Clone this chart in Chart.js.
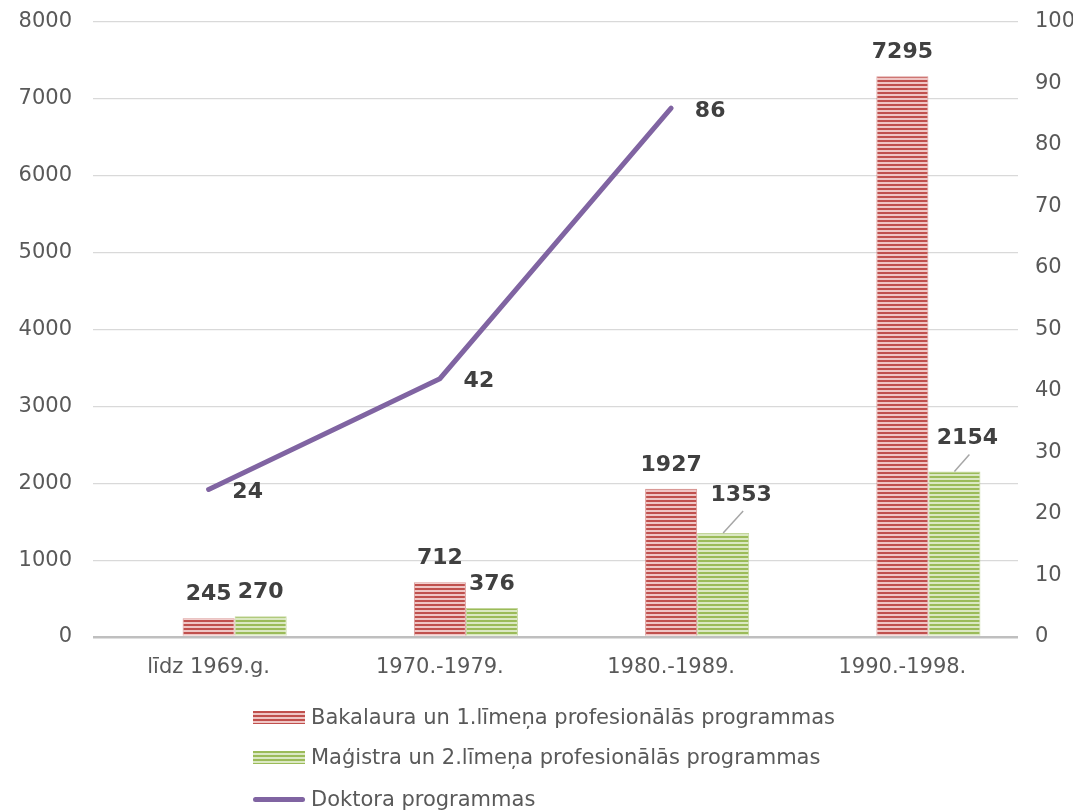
<!DOCTYPE html>
<html>
<head>
<meta charset="utf-8">
<script src="https://cdn.jsdelivr.net/npm/chart.js@4.4.1/dist/chart.umd.min.js"></script>
<style>
  html,body{margin:0;padding:0;background:#fff;}
  #wrap{position:relative;width:1083px;height:811px;}
  #legend{position:absolute;left:253px;top:0;font-family:'DejaVu Sans',Verdana,sans-serif;font-size:21px;color:#595959;}
  .row{position:absolute;left:0;display:flex;align-items:center;white-space:nowrap;height:24px;}
  .sw{width:52px;height:13px;margin-right:6px;}
  .sw.red{background:repeating-linear-gradient(to bottom,#c0504d 0 2px,#efc6c5 2px 4px);}
  .sw.green{background:repeating-linear-gradient(to bottom,#9bbb59 0 2px,#dbe8c3 2px 4px);}
  .sw.line{height:5px;border-radius:3px;background:#8064a2;}
</style>
</head>
<body>
<div id="wrap">
  <canvas id="chart"></canvas>
  <div id="legend"></div>
</div>
<script>
const categories = ["līdz 1969.g.", "1970.-1979.", "1980.-1989.", "1990.-1998."];
const seriesNames = ["Bakalaura un 1.līmeņa profesionālās programmas", "Maģistra un 2.līmeņa profesionālās programmas", "Doktora programmas"];
const bachelor = [245, 712, 1927, 7295];
const master = [270, 376, 1353, 2154];
const doctor = [24, 42, 86, null];
const leftTicks = [0, 1000, 2000, 3000, 4000, 5000, 6000, 7000, 8000];
const rightTicks = [0, 10, 20, 30, 40, 50, 60, 70, 80, 90, 100];

const COLOR = { RED:"#c0504d", RED_L:"#efc6c5", GREEN:"#9bbb59", GREEN_L:"#dbe8c3", PURP:"#8064a2", TEXT:"#595959", LABEL:"#404040" };
const FONT = "'DejaVu Sans', Verdana, sans-serif";

// labels moved off their bar, with a leader line (dataset key -> index -> [dx, dy])
const leaderShift = { master: { 2: [18, -14], 3: [13, -9] } };

function stripes(dark, light){
  const c = document.createElement("canvas"); c.width = 4; c.height = 4;
  const g = c.getContext("2d");
  g.fillStyle = light; g.fillRect(0,0,4,4);
  g.fillStyle = dark; g.fillRect(0,0,4,2);
  return g.createPattern(c, "repeat");
}

const valueLabels = {
  id: "valueLabels",
  afterDatasetsDraw(chart){
    const ctx = chart.ctx;
    ctx.save();
    ctx.font = "bold 22px " + FONT;
    ctx.fillStyle = COLOR.LABEL;
    ctx.textAlign = "center"; ctx.textBaseline = "middle";
    chart.data.datasets.forEach((ds, di) => {
      if (!ds.key) return;
      const meta = chart.getDatasetMeta(di);
      meta.data.forEach((el, i) => {
        const v = ds.data[i];
        if (v == null) return;
        if (ds.type === "line") {
          ctx.fillText(v, el.x + 39, el.y + 3);
          return;
        }
        let x = el.x, y = el.y - 24;
        const sh = leaderShift[ds.key] && leaderShift[ds.key][i];
        if (sh) {
          x += sh[0]; y += sh[1];
          ctx.strokeStyle = "#a6a6a6"; ctx.lineWidth = 1.5;
          ctx.beginPath(); ctx.moveTo(el.x, el.y); ctx.lineTo(x + 2, y + 16); ctx.stroke();
        }
        ctx.fillText(v, x, y);
      });
    });
    ctx.restore();
  }
};

const fitY = w => s => { s.width = w; s.paddingTop = 0; s.paddingBottom = 0; };

Chart.defaults.font.family = FONT;
Chart.defaults.font.size = 21;
Chart.defaults.color = COLOR.TEXT;

new Chart(document.getElementById("chart"), {
  type: "bar",
  data: {
    labels: categories,
    datasets: [
      { label: "", data: categories.map(() => null), backgroundColor: "transparent" },
      { key: "bachelor", label: seriesNames[0], data: bachelor, backgroundColor: stripes(COLOR.RED, COLOR.RED_L), borderColor: "rgba(192,80,77,0.6)", borderWidth: 1, yAxisID: "y" },
      { key: "master", label: seriesNames[1], data: master, backgroundColor: stripes(COLOR.GREEN, COLOR.GREEN_L), borderColor: "rgba(155,187,89,0.6)", borderWidth: 1, yAxisID: "y" },
      { key: "doctor", type: "line", label: seriesNames[2], data: doctor, borderColor: COLOR.PURP, backgroundColor: COLOR.PURP, borderWidth: 5, pointRadius: 0, borderCapStyle: "round", tension: 0, yAxisID: "y2", order: -1 }
    ]
  },
  options: {
    responsive: true, maintainAspectRatio: false, animation: false,
    layout: { padding: { left: 19, right: 10, top: 22, bottom: 114 } },
    datasets: { bar: { categoryPercentage: 0.675, barPercentage: 1 } },
    plugins: { legend: { display: false }, tooltip: { enabled: false } },
    scales: {
      x: { grid: { display: false }, border: { display: false }, ticks: { padding: 10 }, afterFit: s => { s.height = 60; } },
      y: { position: "left", min: leftTicks[0], max: leftTicks[leftTicks.length-1],
           afterBuildTicks: s => { s.ticks = leftTicks.map(v => ({ value: v })); },
           afterFit: fitY(74),
           border: { display: false },
           grid: { drawTicks: false, color: c => c.tick.value === 0 ? "#bfbfbf" : "#d9d9d9", lineWidth: c => c.tick.value === 0 ? 2.5 : 1.2 },
           ticks: { padding: 21, callback: v => String(v) } },
      y2: { position: "right", min: rightTicks[0], max: rightTicks[rightTicks.length-1],
            afterBuildTicks: s => { s.ticks = rightTicks.map(v => ({ value: v })); },
            afterFit: fitY(55),
            border: { display: false }, grid: { display: false, drawTicks: false },
            ticks: { padding: 17, callback: v => String(v) } }
    }
  },
  plugins: [valueLabels]
});

const legend = document.getElementById("legend");
const rowTops = [705, 745, 787];
["red", "green", "line"].forEach((k, i) => {
  const row = document.createElement("div");
  row.className = "row"; row.style.top = rowTops[i] + "px";
  const sw = document.createElement("div"); sw.className = "sw " + k;
  const t = document.createElement("span"); t.textContent = seriesNames[i];
  row.appendChild(sw); row.appendChild(t); legend.appendChild(row);
});
</script>
</body>
</html>
